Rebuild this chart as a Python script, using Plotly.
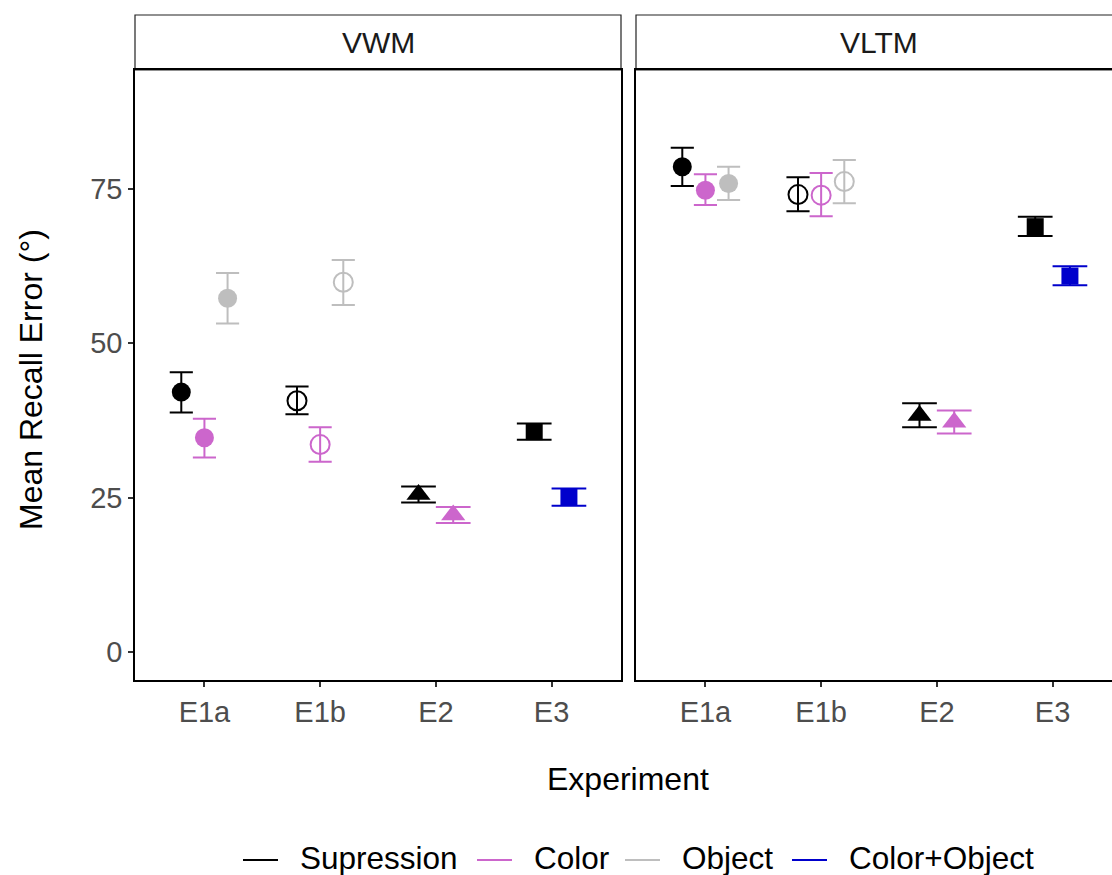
import plotly.graph_objects as go

# ---------------- data ----------------
panels = ["VWM", "VLTM"]
experiments = ["E1a", "E1b", "E2", "E3"]
conditions = ["Supression", "Color", "Object", "Color+Object"]

row_panel = ["VWM"] * 10 + ["VLTM"] * 10
row_exp = ["E1a", "E1a", "E1a", "E1b", "E1b", "E1b", "E2", "E2", "E3", "E3"] * 2
row_cond = ["Supression", "Color", "Object", "Supression", "Color", "Object",
            "Supression", "Color", "Supression", "Color+Object"] * 2
row_mean = [42.1, 34.7, 57.3, 40.7, 33.6, 59.9, 25.5, 22.2, 35.7, 25.1,
            78.6, 74.8, 75.9, 74.1, 74.0, 76.2, 38.3, 37.2, 68.9, 60.9]
row_lo = [38.8, 31.5, 53.2, 38.5, 30.8, 56.2, 24.2, 20.9, 34.4, 23.7,
          75.5, 72.4, 73.2, 71.4, 70.6, 72.7, 36.4, 35.4, 67.4, 59.4]
row_hi = [45.3, 37.8, 61.4, 43.0, 36.4, 63.5, 26.8, 23.5, 37.0, 26.5,
          81.7, 77.4, 78.6, 76.9, 77.6, 79.7, 40.3, 39.1, 70.5, 62.5]

y_ticks = [0, 25, 50, 75]

# ---------------- styles ----------------
cond_colors = {"Supression": "#000000", "Color": "#CC66CC",
               "Object": "#BEBEBE", "Color+Object": "#0000CC"}
exp_symbols = {"E1a": "circle", "E1b": "circle-open", "E2": "triangle-up", "E3": "square"}
exp_sizes = {"E1a": 19, "E1b": 19, "E2": 21, "E3": 17}

W, H = 1112, 875
FONT = "Liberation Sans, Arial, Helvetica, sans-serif"
TICK_COLOR = "#4D4D4D"


def px(sx):
    return sx / W


def py(sy):
    return (H - sy) / H


# panel geometry (pixels)
left_x0, left_x1 = 135, 621
right_x0 = 636
plot_top, plot_bot = 70, 680
x_lo = 0.4
unit_px = (left_x1 - left_x0) / 4.2
right_x_hi = x_lo + (W - right_x0) / unit_px
y_range = [-4.54, 94.28]
dodge_w = 0.6

fig = go.Figure()
axis_ids = {"VWM": ("x", "y"), "VLTM": ("x2", "y2")}

for p in panels:
    for e in experiments:
        idx = [i for i in range(len(row_mean)) if row_panel[i] == p and row_exp[i] == e]
        n = len(idx)
        for k, i in enumerate(idx):
            c = row_cond[i]
            off = (k - (n - 1) / 2) * (dodge_w / n)
            xpos = experiments.index(e) + 1 + off
            half_cap = 0.5 * (dodge_w / n) * unit_px
            xa, ya = axis_ids[p]
            marker = dict(symbol=exp_symbols[e], size=exp_sizes[e], color=cond_colors[c])
            if exp_symbols[e].endswith("open"):
                marker["line"] = dict(width=2, color=cond_colors[c])
            fig.add_trace(go.Scatter(
                x=[xpos], y=[row_mean[i]], mode="markers",
                marker=marker,
                error_y=dict(type="data", symmetric=False,
                             array=[row_hi[i] - row_mean[i]],
                             arrayminus=[row_mean[i] - row_lo[i]],
                             color=cond_colors[c], thickness=2, width=half_cap),
                xaxis=xa, yaxis=ya, showlegend=False, hoverinfo="skip",
            ))

ydom = [py(plot_bot), py(plot_top)]
tickfont = dict(family=FONT, size=29, color=TICK_COLOR)
line_kw = dict(showline=True, linecolor="#000000", linewidth=1.6,
               showgrid=False, zeroline=False)

fig.update_layout(
    width=W, height=H,
    margin=dict(l=0, r=0, t=0, b=0),
    paper_bgcolor="white", plot_bgcolor="white",
    font=dict(family=FONT, color="#000000"),
    showlegend=False,
    xaxis=dict(domain=[px(left_x0), px(left_x1)], range=[x_lo, 4.6],
               tickvals=[1, 2, 3, 4], ticktext=experiments, tickfont=tickfont,
               ticks="outside", ticklen=5, tickwidth=1.6, tickcolor="#333333",
               mirror=True, anchor="y", **line_kw),
    yaxis=dict(domain=ydom, range=y_range, tickvals=y_ticks, tickfont=tickfont,
               ticks="outside", ticklen=5, tickwidth=1.6, tickcolor="#333333",
               mirror=True, anchor="x", **line_kw),
    xaxis2=dict(domain=[px(right_x0), 1.0], range=[x_lo, right_x_hi],
                tickvals=[1, 2, 3, 4], ticktext=experiments, tickfont=tickfont,
                ticks="outside", ticklen=5, tickwidth=1.6, tickcolor="#333333",
                mirror=True, anchor="y2", **line_kw),
    yaxis2=dict(domain=ydom, range=y_range, tickvals=y_ticks, showticklabels=False,
                ticks="", mirror=False, anchor="x2", **line_kw),
)

# facet strips
strip_top, strip_bot = 15, 70
panel_w = left_x1 - left_x0
for p, x0 in zip(panels, [left_x0, right_x0]):
    x1 = x0 + panel_w
    fig.add_shape(type="rect", xref="paper", yref="paper",
                  x0=px(x0), x1=px(x1), y0=py(strip_bot), y1=py(strip_top),
                  line=dict(color="#222222", width=1.2), fillcolor="white", layer="below")
    fig.add_annotation(text=p, xref="paper", yref="paper",
                       x=px((x0 + x1) / 2), y=py((strip_top + strip_bot) / 2),
                       showarrow=False, xanchor="center", yanchor="middle",
                       font=dict(family=FONT, size=30, color="#1A1A1A"))

# axis titles
fig.add_annotation(text="Experiment", xref="paper", yref="paper",
                   x=px(628), y=py(779), showarrow=False,
                   xanchor="center", yanchor="middle",
                   font=dict(family=FONT, size=32, color="#000000"))
fig.add_annotation(text="Mean Recall Error (°)", xref="paper", yref="paper",
                   x=px(31), y=py(380), showarrow=False, textangle=-90,
                   xanchor="center", yanchor="middle",
                   font=dict(family=FONT, size=32, color="#000000"))

# legend (line keys + labels), bottom centre
legend_key_x = [243, 477, 625, 792]
legend_y = 858
key_len, key_gap = 35, 20
for c, kx in zip(conditions, legend_key_x):
    fig.add_shape(type="line", xref="paper", yref="paper",
                  x0=px(kx), x1=px(kx + key_len), y0=py(legend_y + 2), y1=py(legend_y + 2),
                  line=dict(color=cond_colors[c], width=2.2))
    fig.add_annotation(text=c, xref="paper", yref="paper",
                       x=px(kx + key_len + key_gap), y=py(legend_y),
                       showarrow=False, xanchor="left", yanchor="middle",
                       font=dict(family=FONT, size=31.5, color="#000000"))

# remove the default page margin so the figure fills the window exactly
fig.write_html(
    "out.html",
    config={"displayModeBar": False},
    post_script="document.body.style.margin='0';"
                "document.documentElement.style.overflow='hidden';",
)
